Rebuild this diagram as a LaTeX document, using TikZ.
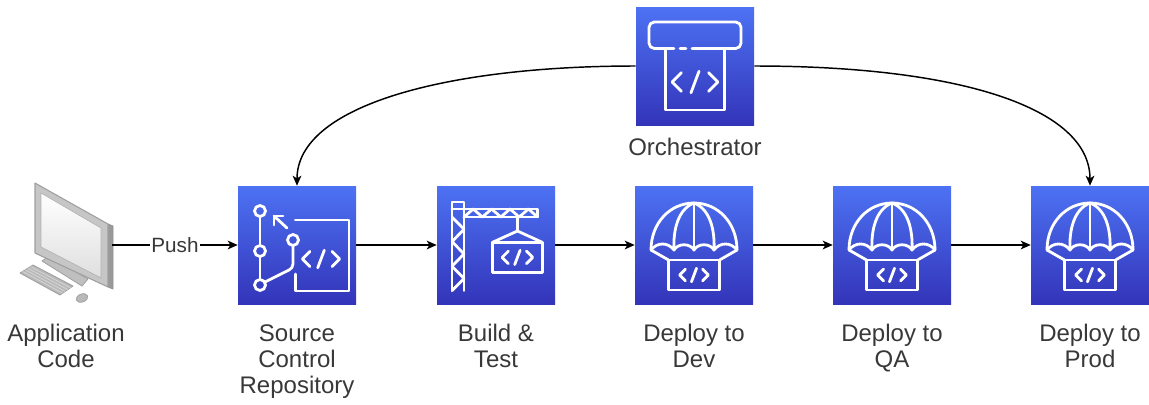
\documentclass[tikz,border=0pt]{standalone}
\usepackage{fontspec}
\setmainfont{Liberation Sans}
\usetikzlibrary{arrows.meta,calc}

\definecolor{awstop}{HTML}{4D72F3}
\definecolor{awsbot}{HTML}{3334B9}
\definecolor{labelgray}{HTML}{383838}

\tikzset{
  svcbox/.style={minimum size=88.5pt, inner sep=0pt, top color=awstop, bottom color=awsbot, draw=none},
  glyph/.style={draw=white, line width=2.1pt, line cap=round, line join=round},
  caption/.style={font=\fontsize{18pt}{19.5pt}\selectfont, text=labelgray, align=center, anchor=north, inner sep=0pt},
  flow/.style={draw=black, line width=1.1pt, -{Stealth[length=7.5pt,width=6.5pt,inset=2pt]}},
  % the </> code tag
  codetag/.pic={
    \draw[glyph] (-10,-7) -- (-17,0) -- (-10,7);
    \draw[glyph] (-3,8) -- (3,-8);
    \draw[glyph] (10,-7) -- (17,0) -- (10,7);
  },
  % repository: commit graph with framed code
  repoicon/.pic={
    \draw[glyph] (-37,-34) circle[radius=5.5];
    \draw[glyph] (-37,6) circle[radius=5.5];
    \draw[glyph] (-37,40) circle[radius=5.5];
    \draw[glyph] (-4,-5) circle[radius=5.5];
    \draw[glyph] (-37,-28.5) -- (-37,0.5);
    \draw[glyph] (-37,11.5) -- (-37,34.5);
    \draw[glyph, rounded corners=3pt] (-32,37) -- (-4,23) -- (-4,0.5);
    \draw[glyph] (-10,-17) -- (-23,-29);
    \draw[glyph] (-23,-20) -- (-23,-29) -- (-14,-29);
    \draw[glyph] (-1.7,-25) -- (52,-25) -- (52,46) -- (-1.7,46) -- (-1.7,29);
    \pic[scale=1.1] at (24,14) {codetag};
  },
  % build: crane lifting a code crate
  craneicon/.pic={
    \draw[glyph] (-44,45.6) -- (-44,-43) -- (-32,-43) -- (-32,45.6);
    \draw[glyph] (-44,-36) -- (41.5,-36) -- (41.5,-28) -- (-32,-28);
    \draw[glyph] (-32,-28) -- (-22.8,-36) -- (-13.6,-28) -- (-4.4,-36) -- (4.8,-28)
                 -- (14,-36) -- (23.2,-28) -- (32.4,-36) -- (41.5,-28);
    \draw[glyph] (-44,-28) -- (-32,-15.7) -- (-44,-3.4) -- (-32,8.9) -- (-44,21.2)
                 -- (-32,33.5) -- (-44,45.6);
    \draw[glyph] (21.4,-28) -- (21.4,-14);
    \draw[glyph] (-3.7,-2.6) -- (21.4,-14) -- (46.5,-2.6);
    \draw[glyph] (-3.7,-2.6) rectangle (46.5,27.3);
    \pic[scale=0.9] at (21.4,12.4) {codetag};
  },
  % orchestrator: window with code panel
  orchicon/.pic={
    \draw[glyph, rounded corners=4pt] (-21,-17.5) -- (-46,-17.5) -- (-46,-44) -- (46,-44)
                 -- (46,-17.5) -- (-3,-17.5);
    \draw[glyph] (-15,-17.5) -- (-9,-17.5);
    \draw[glyph] (-29.3,-17.5) -- (-29.3,44) -- (29.3,44) -- (29.3,-17.5);
    \pic[scale=1.35] at (0,16) {codetag};
  },
  % deploy: parachute carrying a code crate
  deployicon/.pic={
    \draw[glyph] (-43,5) .. controls (-43,-22) and (-24,-42) .. (0,-42)
                 .. controls (24,-42) and (43,-22) .. (43,5);
    \draw[glyph] (-43,5) .. controls (-37,-3) and (-26,-3) .. (-20,5)
                 .. controls (-16,-2) and (-4,-2) .. (0,5)
                 .. controls (4,-2) and (16,-2) .. (20,5)
                 .. controls (26,-3) and (37,-3) .. (43,5);
    \draw[glyph] (0,-42) -- (0,5);
    \draw[glyph] (0,-42) .. controls (-16,-36) and (-21,-15) .. (-20,5);
    \draw[glyph] (0,-42) .. controls (16,-36) and (21,-15) .. (20,5);
    \draw[glyph] (-43,5) -- (-25.5,15);
    \draw[glyph] (43,5) -- (25.5,15);
    \draw[glyph] (-25.5,15) rectangle (25.5,45);
    \pic[scale=0.85] at (0,30) {codetag};
  },
}

\begin{document}
\begin{tikzpicture}[x=0.75pt,y=-0.75pt]
\useasboundingbox (0,0) rectangle (1149,404);

% workstation
\node[inner sep=0pt, minimum width=72pt, minimum height=90pt] (app) at (64,245) {};
\begin{scope}[line join=round]
  % base plate
  \filldraw[fill=gray!50, draw=gray!75, line width=0.6pt]
    (42,261) -- (49,256) -- (88,279) -- (82,286) -- cycle;
  % monitor side
  \filldraw[fill=gray!80, draw=gray!85, line width=0.6pt]
    (108,224) -- (113,226) -- (113,289) -- (108,287) -- cycle;
  % monitor bezel
  \filldraw[fill=gray!45, draw=gray!75, line width=0.8pt]
    (35,183) -- (108,224) -- (108,287) -- (35,253) -- cycle;
  % screen
  \shade[top color=white, bottom color=gray!25, draw=gray!60, line width=0.5pt]
    (41,193) -- (101,228) -- (101,278) -- (41,247) -- cycle;
  % keyboard
  \filldraw[fill=gray!55, draw=gray!75, line width=0.6pt]
    (20,273) -- (33,265) -- (73,286) -- (60,295) -- cycle;
  \foreach \k in {0.2,0.4,0.6,0.8}
    \draw[gray!30, line width=0.5pt] ($(20,273)!\k!(33,265)$) -- ($(60,295)!\k!(73,286)$);
  % mouse
  \filldraw[fill=gray!55, draw=gray!75, line width=0.6pt, rotate around={20:(82,298)}]
    (82,298) ellipse[x radius=6, y radius=4];
\end{scope}

% services
\node[svcbox] (src)  at (297,245) {};
\node[svcbox] (bld)  at (496,245) {};
\node[svcbox] (dev)  at (694,245) {};
\node[svcbox] (qa)   at (892,245) {};
\node[svcbox] (prod) at (1090,245) {};
\node[svcbox] (orch) at (695,66) {};

\pic at (src.center)  {repoicon};
\pic at (bld.center)  {craneicon};
\pic at (dev.center)  {deployicon};
\pic at (qa.center)   {deployicon};
\pic at (prod.center) {deployicon};
\pic at (orch.center) {orchicon};

% captions
\node[caption] (l-app)  at (66,324)   {Application\\Code};
\node[caption] (l-src)  at (297,324)  {Source\\Control\\Repository};
\node[caption] (l-bld)  at (496,324)  {Build \&\\Test};
\node[caption] (l-dev)  at (694,324)  {Deploy to\\Dev};
\node[caption] (l-qa)   at (892,324)  {Deploy to\\QA};
\node[caption] (l-prod) at (1090,324) {Deploy to\\Prod};
\node[caption] (l-orch) at (695,138)  {Orchestrator};

% pipeline
\draw[flow] (app.east) -- node[fill=white, inner sep=1pt, text=labelgray,
  font=\fontsize{15.5pt}{16pt}\selectfont] {Push} (src.west);
\draw[flow] (src.east) -- (bld.west);
\draw[flow] (bld.east) -- (dev.west);
\draw[flow] (dev.east) -- (qa.west);
\draw[flow] (qa.east) -- (prod.west);

% orchestration
\draw[flow] (orch.west) .. controls +(-190,0) and +(0,-80) .. (src.north);
\draw[flow] (orch.east) .. controls +(205,0) and +(0,-78) .. (prod.north);
\end{tikzpicture}
\end{document}
